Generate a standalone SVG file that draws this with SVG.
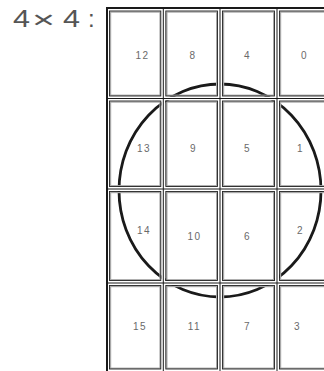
<svg xmlns="http://www.w3.org/2000/svg" width="324" height="371" viewBox="0 0 324 371">
<style>
.bg{fill:#fff}
.sep{stroke:#1a1a1a;stroke-width:1;fill:none}
.edge{stroke:#1a1a1a;stroke-width:2;fill:none}
.in{fill:none;stroke:#222;stroke-width:0.9}
.sh{fill:none;stroke:#a8a8a8;stroke-width:1.4}
.num{font-family:"Liberation Sans",Arial,sans-serif;font-size:10px;fill:#6a6a6a;text-anchor:middle;letter-spacing:1.5px}
.title{font-family:"Liberation Sans",Arial,sans-serif;font-size:24px;fill:#555}
.circ{fill:none;stroke:#1a1a1a;stroke-width:2.8}
</style>
<defs>
<clipPath id="cells">
<rect x="109" y="10.5" width="52.3" height="86"/><rect x="165.3" y="10.5" width="52.7" height="86"/><rect x="222" y="10.5" width="53" height="86"/><rect x="279" y="10.5" width="53" height="86"/>
<rect x="109" y="100.5" width="52.3" height="86.5"/><rect x="165.3" y="100.5" width="52.7" height="86.5"/><rect x="222" y="100.5" width="53" height="86.5"/><rect x="279" y="100.5" width="53" height="86.5"/>
<rect x="109" y="191" width="52.3" height="90"/><rect x="165.3" y="191" width="52.7" height="90"/><rect x="222" y="191" width="53" height="90"/><rect x="279" y="191" width="53" height="90"/>
<rect x="109" y="285" width="52.3" height="85"/><rect x="165.3" y="285" width="52.7" height="85"/><rect x="222" y="285" width="53" height="85"/><rect x="279" y="285" width="53" height="85"/>
</clipPath>
</defs>
<rect class="bg" x="0" y="0" width="324" height="371"/>
<text class="title" x="13" y="27" textLength="17" lengthAdjust="spacingAndGlyphs">4</text>
<text class="title" x="32" y="27.5" font-size="36" textLength="23" lengthAdjust="spacingAndGlyphs">×</text>
<text class="title" x="63" y="27" textLength="17" lengthAdjust="spacingAndGlyphs">4</text>
<text class="title" x="88" y="27">:</text>

<g id="connectors">
<line class="edge" x1="107" y1="8" x2="324" y2="8"/>
<line class="edge" x1="107" y1="7" x2="107" y2="371"/>
<line class="sep" x1="163.3" y1="8" x2="163.3" y2="371"/>
<line class="sep" x1="220" y1="8" x2="220" y2="371"/>
<line class="sep" x1="277" y1="8" x2="277" y2="371"/>
<line class="sep" x1="107" y1="98.5" x2="324" y2="98.5"/>
<line class="sep" x1="107" y1="189" x2="324" y2="189"/>
<line class="sep" x1="107" y1="283" x2="324" y2="283"/>
</g>

<g id="circle" clip-path="url(#cells)">
<ellipse class="circ" cx="220" cy="190.5" rx="101" ry="106.5"/>
</g>

<g id="cell-12"><rect class="sh" x="110.5" y="12" width="49.6" height="83.3"/><rect class="in" x="109.5" y="11" width="51.3" height="85"/><text class="num" x="142.5" y="58.5">12</text></g>
<g id="cell-8"><rect class="sh" x="166.8" y="12" width="49.9" height="83.3"/><rect class="in" x="165.8" y="11" width="51.7" height="85"/><text class="num" x="193" y="58.5">8</text></g>
<g id="cell-4"><rect class="sh" x="223.5" y="12" width="50.2" height="83.3"/><rect class="in" x="222.5" y="11" width="52" height="85"/><text class="num" x="247.5" y="58.5">4</text></g>
<g id="cell-0"><rect class="sh" x="280.5" y="12" width="50.2" height="83.3"/><rect class="in" x="279.5" y="11" width="52" height="85"/><text class="num" x="304.5" y="58.5">0</text></g>

<g id="cell-13"><rect class="sh" x="110.5" y="102" width="49.6" height="83.8"/><rect class="in" x="109.5" y="101" width="51.3" height="85.5"/><text class="num" x="144" y="152">13</text></g>
<g id="cell-9"><rect class="sh" x="166.8" y="102" width="49.9" height="83.8"/><rect class="in" x="165.8" y="101" width="51.7" height="85.5"/><text class="num" x="193.5" y="152">9</text></g>
<g id="cell-5"><rect class="sh" x="223.5" y="102" width="50.2" height="83.8"/><rect class="in" x="222.5" y="101" width="52" height="85.5"/><text class="num" x="247.5" y="152">5</text></g>
<g id="cell-1"><rect class="sh" x="280.5" y="102" width="50.2" height="83.8"/><rect class="in" x="279.5" y="101" width="52" height="85.5"/><text class="num" x="300.5" y="152">1</text></g>

<g id="cell-14"><rect class="sh" x="110.5" y="192.5" width="49.6" height="87.3"/><rect class="in" x="109.5" y="191.5" width="51.3" height="89"/><text class="num" x="144" y="234">14</text></g>
<g id="cell-10"><rect class="sh" x="166.8" y="192.5" width="49.9" height="87.3"/><rect class="in" x="165.8" y="191.5" width="51.7" height="89"/><text class="num" x="194.5" y="240">10</text></g>
<g id="cell-6"><rect class="sh" x="223.5" y="192.5" width="50.2" height="87.3"/><rect class="in" x="222.5" y="191.5" width="52" height="89"/><text class="num" x="247.5" y="240">6</text></g>
<g id="cell-2"><rect class="sh" x="280.5" y="192.5" width="50.2" height="87.3"/><rect class="in" x="279.5" y="191.5" width="52" height="89"/><text class="num" x="300.5" y="234">2</text></g>

<g id="cell-15"><rect class="sh" x="110.5" y="286.5" width="49.6" height="81.8"/><rect class="in" x="109.5" y="285.5" width="51.3" height="83.5"/><text class="num" x="140" y="330">15</text></g>
<g id="cell-11"><rect class="sh" x="166.8" y="286.5" width="49.9" height="81.8"/><rect class="in" x="165.8" y="285.5" width="51.7" height="83.5"/><text class="num" x="194.5" y="330">11</text></g>
<g id="cell-7"><rect class="sh" x="223.5" y="286.5" width="50.2" height="81.8"/><rect class="in" x="222.5" y="285.5" width="52" height="83.5"/><text class="num" x="247.5" y="330">7</text></g>
<g id="cell-3"><rect class="sh" x="280.5" y="286.5" width="50.2" height="81.8"/><rect class="in" x="279.5" y="285.5" width="52" height="83.5"/><text class="num" x="297.5" y="330">3</text></g>
</svg>
